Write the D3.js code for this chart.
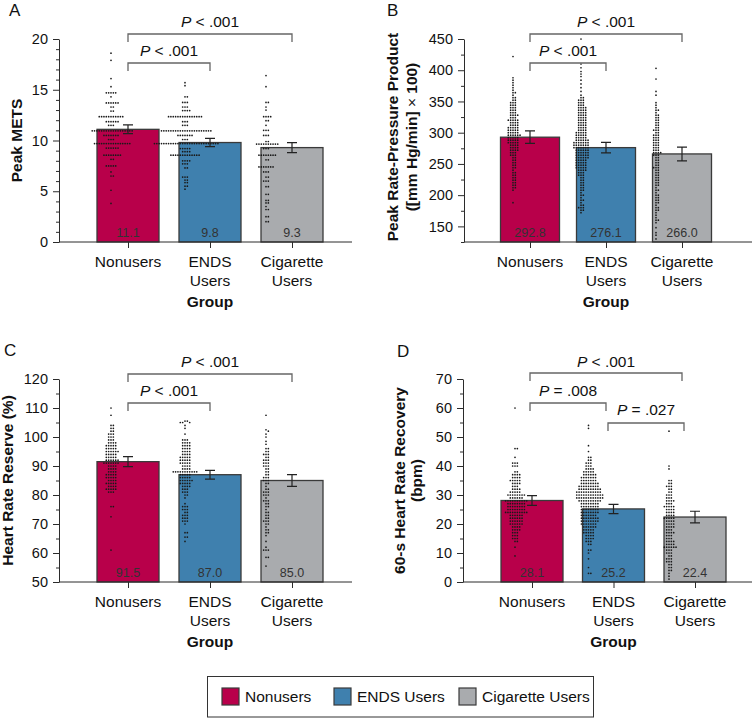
<!DOCTYPE html>
<html><head><meta charset="utf-8">
<script src="https://cdn.jsdelivr.net/npm/d3@7"></script>
<style>
html,body{margin:0;padding:0;background:#fff;}
svg{display:block;font-family:"Liberation Sans",Arial,Helvetica,sans-serif;}
</style></head>
<body><svg id="chart" width="753" height="718"></svg>
<script>
// ---------------- DATA ----------------
const groups = ["Nonusers", "ENDS Users", "Cigarette Users"];
const groupLines = [["Nonusers"], ["ENDS", "Users"], ["Cigarette", "Users"]];
const colors = ["#B8004A", "#3F80AE", "#A9ABAE"];

const meansA = [11.1, 9.8, 9.3];      const errA = [0.43, 0.40, 0.50];
const meansB = [292.8, 276.1, 266.0]; const errB = [10.0, 8.5, 11.0];
const meansC = [91.5, 87.0, 85.0];    const errC = [1.7, 1.5, 2.0];
const meansD = [28.1, 25.2, 22.4];    const errD = [1.7, 1.6, 2.0];

const ticksA = [0, 5, 10, 15, 20];
const ticksB = [150, 200, 250, 300, 350, 400, 450];
const ticksC = [50, 60, 70, 80, 90, 100, 110, 120];
const ticksD = [0, 10, 20, 30, 40, 50, 60, 70];

// individual observations as [value, count]
const dotsA_non = [[18.6,1],[17.9,1],[16.1,1],[15.3,1],[14.7,5],[14.3,1],[13.7,6],[13.3,2],[12.9,2],[12.35,11],[11.85,6],[11.5,3],[10.95,18],[10.5,7],[10.1,3],[9.7,16],[9.25,6],[8.55,8],[8.15,2],[7.5,5],[6.9,1],[6.5,2],[5.1,1],[3.8,1]];
const dotsA_ends = [[15.7,1],[15.4,1],[14.3,2],[13.75,3],[13.3,3],[12.95,4],[12.35,15],[11.85,3],[11.5,3],[10.95,22],[10.5,7],[10.1,3],[9.7,28],[9.2,5],[8.9,4],[8.55,13],[8.0,4],[7.7,3],[7.3,2],[6.4,3],[6.1,2],[5.85,2],[5.5,2],[5.2,1]];
const dotsA_cig = [[16.4,1],[15.3,1],[13.75,2],[13.3,1],[13.0,1],[12.35,4],[11.95,2],[11.5,1],[11.0,3],[10.5,3],[9.9,2],[9.65,10],[9.2,3],[8.55,8],[8.1,2],[7.4,7],[6.9,3],[6.4,2],[6.0,3],[5.45,2],[4.7,2],[4.1,2],[3.85,2],[3.5,1],[3.2,2],[2.5,2],[2.0,2]];

const dotsB_non = [[422,1],[388,1],[384,1],[380,1],[376,1],[372,1],[368,1],[364,2],[360,1],[356,2],[352,2],[348,3],[344,3],[340,3],[336,3],[332,3],[328,4],[324,3],[320,5],[316,4],[312,4],[308,5],[304,5],[300,5],[296,6],[292,5],[288,5],[284,5],[280,4],[276,4],[272,4],[268,3],[264,3],[260,2],[256,2],[252,2],[248,2],[244,2],[240,1],[236,2],[232,2],[228,2],[224,2],[220,2],[216,2],[212,2],[208,1],[188,1]];
const dotsB_ends = [[450,1],[410,1],[404,1],[398,1],[394,1],[390,1],[384,1],[378,1],[372,1],[366,1],[360,1],[356,2],[352,3],[348,3],[344,3],[340,4],[336,4],[332,4],[328,4],[324,4],[320,4],[316,4],[312,4],[308,4],[304,4],[300,5],[296,5],[292,5],[288,6],[284,7],[280,7],[276,7],[272,6],[268,6],[264,6],[260,6],[256,5],[252,5],[248,5],[244,5],[240,4],[236,3],[232,3],[228,2],[224,2],[220,2],[216,2],[212,2],[208,2],[204,1],[200,2],[196,1],[192,2],[188,1],[184,2],[180,3],[176,2],[172,1]];
const dotsB_cig = [[403,1],[386,1],[366,1],[360,1],[348,1],[344,1],[340,1],[336,2],[332,1],[328,2],[324,2],[320,2],[316,2],[312,2],[308,2],[304,3],[300,2],[296,3],[292,3],[288,3],[284,3],[280,3],[276,3],[272,3],[268,4],[264,3],[260,2],[256,2],[252,2],[248,2],[244,3],[240,2],[236,2],[232,2],[228,2],[224,2],[220,2],[216,2],[212,1],[208,2],[204,1],[200,2],[196,2],[192,2],[188,2],[184,1],[180,2],[176,2],[172,1],[168,1],[164,1],[160,2],[156,1],[148,1],[140,1],[136,1],[130,1]];

const dotsC_non = [[110,1],[107.5,1],[104,2],[103,2],[102,2],[101,3],[100,3],[99,3],[98,4],[97,5],[96,5],[95,6],[94,5],[93,5],[92,6],[91,7],[90,4],[89,4],[88,4],[87,5],[86,5],[85,4],[84,5],[83,4],[82,5],[81,3],[76,2],[72.5,1],[61,1]];
const dotsC_ends = [[105.5,2],[105,3],[104,1],[103,1],[101,1],[99,3],[98,4],[97,4],[96,4],[95,4],[94,4],[93,5],[92,5],[91,5],[90,4],[89,4],[88,11],[87,5],[86,5],[85,6],[84,5],[83,4],[82,3],[81,3],[80,2],[79,1],[77,1],[76,3],[75,3],[74,2],[73,3],[72,3],[71,3],[70,1],[67,2],[65.5,2],[64,1]];
const dotsC_cig = [[107.5,1],[102.5,1],[102,1],[101,1],[100,1],[98.5,1],[97.5,1],[96,2],[95,2],[94,3],[93,2],[92,3],[91,3],[90,3],[89,2],[88,2],[87,2],[86,3],[85,3],[84,2],[83,1],[82,2],[81,3],[80,3],[79,1],[78,3],[77,2],[76,2],[75,1],[74,2],[73,2],[72,2],[71,3],[70,2],[69,1],[68,2],[67,2],[66,1],[64,1],[62,1],[61,3],[58.5,2],[55.5,1]];

const dotsD_non = [[60,1],[46,2],[43,1],[41,3],[40,3],[38,2],[37,4],[36,4],[35,5],[34,4],[33,3],[32,4],[31,5],[30,8],[29,6],[28,10],[27,8],[26,8],[25,8],[24,10],[23,6],[22,6],[21,6],[20,6],[19,4],[18,4],[17,3],[16,3],[15,3],[14,2],[12,1],[9,1]];
const dotsD_ends = [[54,1],[53,1],[47,1],[45,1],[43,2],[42,2],[41,3],[40,3],[39,4],[38,5],[37,6],[36,7],[35,7],[34,8],[33,9],[32,10],[31,11],[30,12],[29,12],[28,10],[27,8],[26,8],[25,8],[24,8],[23,7],[22,8],[21,8],[20,7],[19,6],[18,5],[17,5],[16,4],[15,4],[14,3],[13,2],[11,2],[10,1],[8,1],[5,1],[3,2]];
const dotsD_cig = [[52,1],[40,1],[39,1],[35,2],[34,2],[33,3],[32,2],[31,2],[30,3],[29,3],[28,4],[27,3],[26,5],[25,4],[24,4],[23,4],[22,5],[21,4],[20,4],[19,4],[18,3],[17,4],[16,3],[15,3],[14,4],[13,4],[12,6],[11,3],[10,3],[9,2],[8,3],[7,3],[6,2],[5,2],[4,2],[3,1],[2,1],[1,1]];

const compA = [{a:0,b:2,text:"< .001"},{a:0,b:1,text:"< .001"}];
const compB = [{a:0,b:2,text:"< .001"},{a:0,b:1,text:"< .001"}];
const compC = [{a:0,b:2,text:"< .001"},{a:0,b:1,text:"< .001"}];
const compD = [{a:0,b:2,text:"< .001"},{a:0,b:1,text:"= .008"},{a:1,b:2,text:"= .027"}];

// ---------------- LAYOUT ----------------
const panels = [
  {letter:"A", lx:9, ly:16, means:meansA, errs:errA, dots:[dotsA_non,dotsA_ends,dotsA_cig], domain:[0,20], ticks:ticksA, minor:1,
   x0:59, x1:352, yTop:39, yBot:242, cRange:[128,292], barW:62, comps:compA, compRange:[128,292],
   ylab:[{t:"Peak METS", x:21.5}], ylabY:140.5, levels:[{by:-5,ty:-12},{by:24,ty:17}]},
  {letter:"B", lx:387, ly:16, means:meansB, errs:errB, dots:[dotsB_non,dotsB_ends,dotsB_cig], domain:[125,450], ticks:ticksB, minor:25,
   x0:464, x1:752, yTop:39, yBot:242, cRange:[530,682], barW:59, comps:compB, compRange:[530,682],
   ylab:[{t:"Peak Rate-Pressure Product", x:398},{t:"([mm Hg/min] \u00D7 100)", x:417}], ylabY:137, levels:[{by:-5,ty:-12},{by:24,ty:17}]},
  {letter:"C", lx:4, ly:356, means:meansC, errs:errC, dots:[dotsC_non,dotsC_ends,dotsC_cig], domain:[50,120], ticks:ticksC, minor:5,
   x0:59, x1:352, yTop:379, yBot:582, cRange:[128,292], barW:62, comps:compC, compRange:[128,292],
   ylab:[{t:"Heart Rate Reserve (%)", x:12.5}], ylabY:480.5, levels:[{by:-5,ty:-12},{by:24,ty:17}]},
  {letter:"D", lx:397, ly:357, means:meansD, errs:errD, dots:[dotsD_non,dotsD_ends,dotsD_cig], domain:[0,70], ticks:ticksD, minor:5,
   x0:463, x1:752, yTop:379, yBot:582, cRange:[532,695], barW:62, comps:compD, compRange:[530,682],
   ylab:[{t:"60-s Heart Rate Recovery", x:405},{t:"(bpm)", x:422}], ylabY:480.5, levels:[{by:-6,ty:-12},{by:24,ty:17},{by:44,ty:36}]}
];
const dotOffsets = [-17, -25, -26];
const INK = "#2b2b2b";

const svg = d3.select("#chart");

function swarm(pairs, y, cx, d) {
  const vals = [];
  pairs.forEach(([v, n]) => { for (let i = 0; i < n; i++) vals.push(v); });
  vals.sort((a, b) => b - a);
  const placed = [];
  vals.forEach(v => {
    const py = y(v);
    for (let k = 0; k < 400; k++) {
      const off = k === 0 ? 0 : (k % 2 ? Math.ceil(k / 2) : -Math.ceil(k / 2)) * d;
      const px = cx + off;
      if (placed.every(p => (p.x - px) ** 2 + (p.y - py) ** 2 >= d * d * 0.8)) { placed.push({x: px, y: py}); break; }
    }
  });
  return placed;
}

panels.forEach(P => {
  const g = svg.append("g");
  const y = d3.scaleLinear().domain(P.domain).range([P.yBot, P.yTop]);
  const x = d3.scalePoint().domain(groups).range(P.cRange);
  const xc = d3.scalePoint().domain(groups).range(P.compRange);

  // panel letter
  g.append("text").attr("x", P.lx).attr("y", P.ly).attr("font-size", 17).attr("fill", "#111").text(P.letter);

  // bars
  g.selectAll("rect.bar").data(groups).enter().append("rect")
    .attr("x", d => x(d) - P.barW / 2).attr("width", P.barW)
    .attr("y", (d, i) => y(P.means[i])).attr("height", (d, i) => P.yBot - y(P.means[i]))
    .attr("fill", (d, i) => colors[i]).attr("stroke", "#3a3a3a").attr("stroke-width", 1.3);

  // value labels
  g.selectAll("text.val").data(groups).enter().append("text")
    .attr("x", d => x(d)).attr("y", P.yBot - 5).attr("text-anchor", "middle")
    .attr("font-size", 12.5).attr("fill", "#333").text((d, i) => P.means[i].toFixed(1));

  // dots
  groups.forEach((gr, i) => {
    const pts = swarm(P.dots[i], y, x(gr) + dotOffsets[i], 2.35);
    g.append("g").selectAll("circle").data(pts).enter().append("circle")
      .attr("cx", d => d.x).attr("cy", d => d.y).attr("r", 0.85).attr("fill", "#1a1a1a");
  });

  // error bars
  groups.forEach((gr, i) => {
    const cx = x(gr), lo = y(P.means[i] - P.errs[i]), hi = y(P.means[i] + P.errs[i]);
    g.append("path").attr("d", `M${cx},${lo}V${hi}M${cx - 5},${lo}H${cx + 5}M${cx - 5},${hi}H${cx + 5}`)
      .attr("stroke", "#222").attr("stroke-width", 1.2).attr("fill", "none");
  });

  // y axis
  const minorTicks = d3.range(P.domain[0], P.domain[1] + 1e-9, P.minor).filter(v => !P.ticks.includes(v));
  const ya = g.append("g").attr("transform", `translate(${P.x0},0)`)
    .call(d3.axisLeft(y).tickValues(P.ticks).tickSize(6).tickSizeOuter(0).tickPadding(5));
  ya.select(".domain").attr("stroke", INK);
  ya.selectAll(".tick line").attr("stroke", INK);
  ya.selectAll(".tick text").attr("font-size", 14.5).attr("fill", "#111").attr("font-family", null);
  const ym = g.append("g").attr("transform", `translate(${P.x0},0)`)
    .call(d3.axisLeft(y).tickValues(minorTicks).tickSize(3).tickFormat(""));
  ym.select(".domain").remove();
  ym.selectAll(".tick line").attr("stroke", INK);

  // x axis
  g.append("line").attr("x1", P.x0).attr("x2", P.x1).attr("y1", P.yBot).attr("y2", P.yBot).attr("stroke", INK);
  const xa = g.append("g").attr("transform", `translate(0,${P.yBot})`)
    .call(d3.axisBottom(x).tickSize(6).tickFormat(""));
  xa.select(".domain").remove();
  xa.selectAll(".tick line").attr("stroke", INK);
  groups.forEach((gr, i) => {
    const t = g.append("text").attr("x", x(gr)).attr("y", P.yBot + 25).attr("text-anchor", "middle")
      .attr("font-size", 15.5).attr("fill", "#111");
    groupLines[i].forEach((ln, j) => {
      t.append("tspan").attr("x", x(gr)).attr("dy", j === 0 ? 0 : 19).text(ln);
    });
  });
  g.append("text").attr("x", x(groups[1])).attr("y", P.yBot + 65).attr("text-anchor", "middle")
    .attr("font-size", 15.5).attr("font-weight", "bold").attr("fill", "#111").text("Group");

  // y-axis title
  P.ylab.forEach(l => {
    const t = g.append("text").attr("transform", `translate(${l.x},${P.ylabY}) rotate(-90)`)
      .attr("text-anchor", "middle").attr("font-size", 15.5).attr("font-weight", "bold").attr("fill", "#111");
    if (l.t.includes("\u00D7")) {
      const parts = l.t.split("\u00D7");
      t.append("tspan").text(parts[0]);
      t.append("tspan").attr("font-weight", "normal").text("\u00D7");
      t.append("tspan").text(parts[1]);
    } else t.text(l.t);
  });

  // comparison brackets
  P.comps.forEach((c, k) => {
    const lv = P.levels[k];
    const by = P.yTop + lv.by, ty = P.yTop + lv.ty;
    const shift = (P.letter === "D" && k === 2) ? 2 : 0;
    const xa1 = xc(groups[c.a]) + shift, xb1 = xc(groups[c.b]) + shift;
    g.append("path").attr("d", `M${xa1},${by + 8}V${by}H${xb1}V${by + 8}`)
      .attr("fill", "none").attr("stroke", "#666").attr("stroke-width", 1.3);
    const t = g.append("text").attr("x", (xa1 + xb1) / 2).attr("y", ty).attr("text-anchor", "middle")
      .attr("font-size", 15.5).attr("fill", "#111");
    t.append("tspan").attr("font-style", "italic").text("P");
    t.append("tspan").text(" " + c.text);
  });
});

// legend
const legX = [222, 334, 459];
const lg = svg.append("g");
lg.append("rect").attr("x", 207.5).attr("y", 676.5).attr("width", 386).attr("height", 40.5)
  .attr("fill", "none").attr("stroke", "#333").attr("stroke-width", 1);
groups.forEach((gr, i) => {
  lg.append("rect").attr("x", legX[i]).attr("y", 688).attr("width", 17).attr("height", 17)
    .attr("fill", colors[i]).attr("stroke", "#3a3a3a").attr("stroke-width", 1.2);
  lg.append("text").attr("x", legX[i] + 23).attr("y", 702).attr("font-size", 15.5).attr("fill", "#111").text(gr);
});
</script>
</body></html>
